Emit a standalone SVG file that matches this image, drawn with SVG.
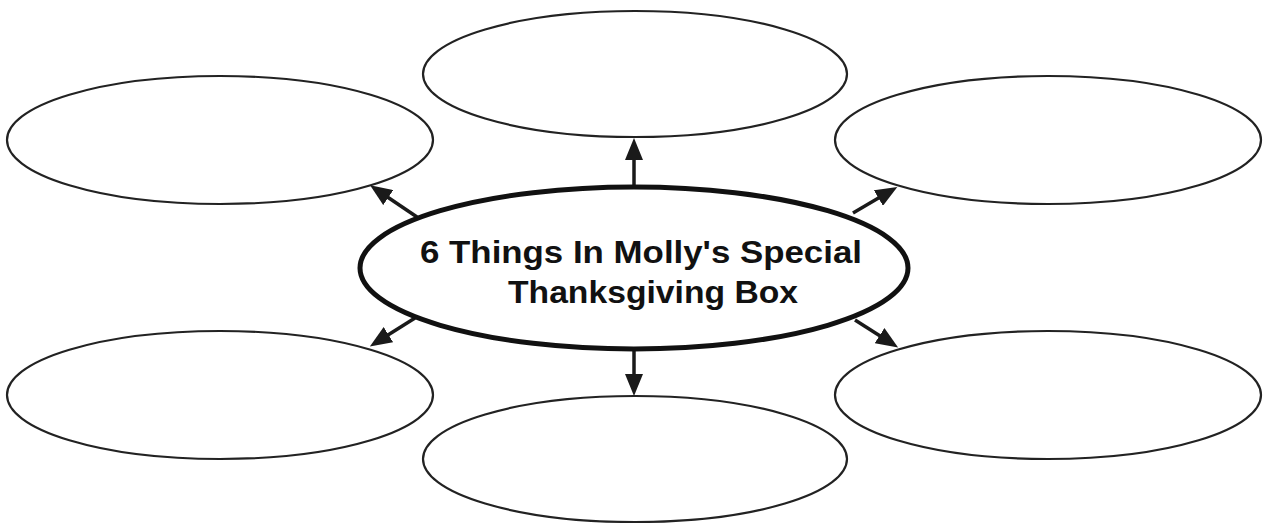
<svg xmlns="http://www.w3.org/2000/svg" width="1269" height="523" viewBox="0 0 1269 523">
<style>
.bubble{fill:#fff;stroke:#222;stroke-width:2.2}
.center{fill:#fff;stroke:#111;stroke-width:5}
.conn{stroke:#1a1a1a;stroke-width:3.5;fill:none}
.title{font-family:"Liberation Sans",Arial,sans-serif;font-weight:bold;font-size:31px;fill:#111}
</style>
<defs>
<marker id="ah" viewBox="0 0 22 18" refX="10" refY="9" markerWidth="22" markerHeight="18" markerUnits="userSpaceOnUse" orient="auto">
<path d="M0,0 L22,9 L0,18 z" fill="#1a1a1a"/>
</marker>
</defs>
<rect width="1269" height="523" fill="#fff"/>
<g id="node-top"><ellipse class="bubble" cx="635" cy="74" rx="212" ry="63"/></g>
<g id="node-top-left"><ellipse class="bubble" cx="220" cy="140" rx="213" ry="64"/></g>
<g id="node-top-right"><ellipse class="bubble" cx="1048" cy="140" rx="213" ry="64"/></g>
<g id="node-bottom-left"><ellipse class="bubble" cx="220" cy="395" rx="213" ry="64"/></g>
<g id="node-bottom-right"><ellipse class="bubble" cx="1048" cy="395" rx="213" ry="64"/></g>
<g id="node-bottom"><ellipse class="bubble" cx="635" cy="459" rx="212" ry="63"/></g>
<g id="connectors">
<line class="conn" x1="634" y1="186" x2="634" y2="150" marker-end="url(#ah)"/>
<line class="conn" x1="634" y1="349" x2="634" y2="384" marker-end="url(#ah)"/>
<line class="conn" x1="417" y1="217" x2="380" y2="192" marker-end="url(#ah)"/>
<line class="conn" x1="853" y1="213" x2="887" y2="193" marker-end="url(#ah)"/>
<line class="conn" x1="415" y1="318" x2="380" y2="340" marker-end="url(#ah)"/>
<line class="conn" x1="855" y1="320" x2="888" y2="341" marker-end="url(#ah)"/>
</g>
<g id="node-center">
<ellipse class="center" cx="634" cy="268" rx="274" ry="81"/>
<text class="title" x="420" y="263" textLength="442" lengthAdjust="spacingAndGlyphs">6 Things In Molly's Special</text>
<text class="title" x="508" y="303" textLength="290" lengthAdjust="spacingAndGlyphs">Thanksgiving Box</text>
</g>
</svg>
